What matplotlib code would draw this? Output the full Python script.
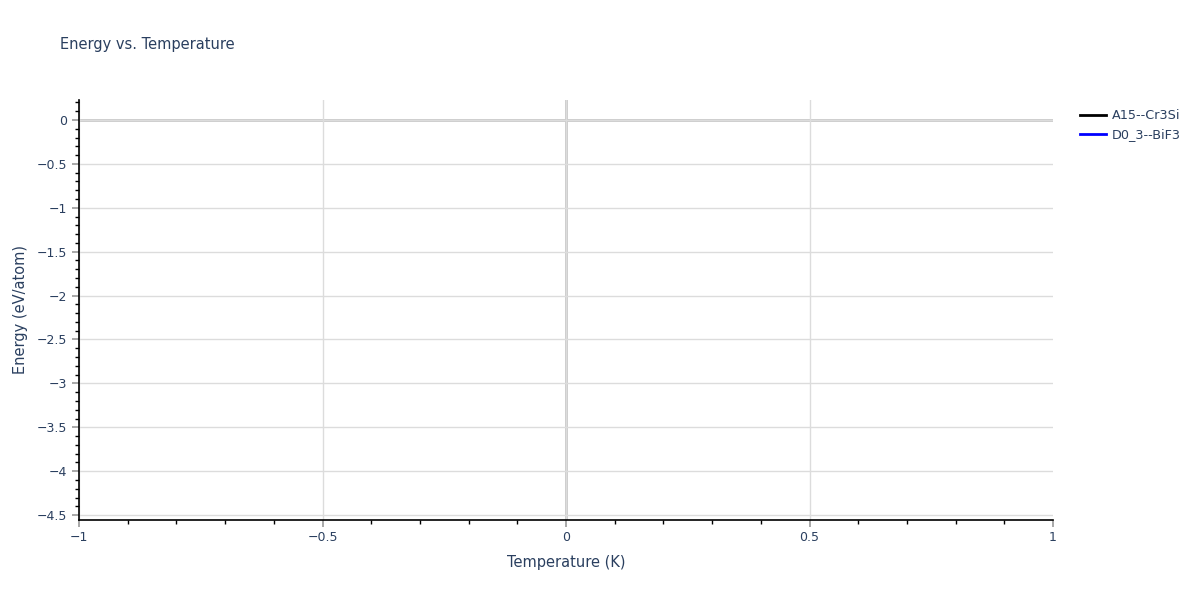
import matplotlib
matplotlib.use("Agg")
import matplotlib.pyplot as plt
from matplotlib.ticker import MultipleLocator, FuncFormatter

# series (no data points in the reference, only legend entries)
series_names = ["A15--Cr3Si", "D0_3--BiF3"]
series_colors = ["black", "blue"]
series_temp = [[], []]
series_energy = [[], []]

x_range = (-1, 1)
y_range = (-4.556, 0.228)
x_ticks = [-1, -0.5, 0, 0.5, 1]
y_ticks = [0, -0.5, -1, -1.5, -2, -2.5, -3, -3.5, -4, -4.5]

TXT = "#2a3f5f"
GRID = "#dcdcdc"

plt.rcParams["font.family"] = ["DejaVu Sans"]

fig = plt.figure(figsize=(12, 6), dpi=100)
ax = fig.add_axes([79 / 1200, 80 / 600, 974 / 1200, 420 / 600])

for name, col, xs, ys in zip(series_names, series_colors, series_temp, series_energy):
    ax.plot(xs, ys, color=col, linewidth=2, label=name)

ax.set_xlim(*x_range)
ax.set_ylim(*y_range)

ax.set_xticks(x_ticks)
ax.set_yticks(y_ticks)
ax.xaxis.set_minor_locator(MultipleLocator(0.1))
ax.yaxis.set_minor_locator(MultipleLocator(0.1))

fmt = FuncFormatter(lambda v, p: ("%g" % v).replace("-", "\u2212"))
ax.xaxis.set_major_formatter(fmt)
ax.yaxis.set_major_formatter(fmt)

ax.grid(True, which="major", color=GRID, linewidth=1)
ax.xaxis.get_gridlines()[-1].set_visible(False)
ax.axhline(0, color="#c8c8c8", linewidth=2, zorder=1)
ax.axvline(0, color="#c8c8c8", linewidth=2, zorder=1)

for s in ["top", "right"]:
    ax.spines[s].set_visible(False)
for s in ["left", "bottom"]:
    ax.spines[s].set_color("black")
    ax.spines[s].set_linewidth(1.2)

ax.tick_params(which="major", length=5, width=1.2, color="#999999",
               labelcolor=TXT, labelsize=9)
ax.tick_params(which="minor", length=3, width=1, color="black")
ax.tick_params(axis="x", which="major", pad=3)

ax.set_xlabel("Temperature (K)", color=TXT, fontsize=10.5, labelpad=8)
ax.set_ylabel("Energy (eV/atom)", color=TXT, fontsize=10.5, labelpad=6)

fig.text(60 / 1200, 1 - 45 / 600, "Energy vs. Temperature", color=TXT,
         fontsize=10.5, va="center", ha="left")

leg = ax.legend(loc="upper left", bbox_to_anchor=(1.022, 0.99), frameon=False,
                fontsize=9.2, handlelength=2.1, handletextpad=0.4,
                labelspacing=0.45, borderaxespad=0)
for t in leg.get_texts():
    t.set_color(TXT)

fig.savefig("out.png", dpi=100)
